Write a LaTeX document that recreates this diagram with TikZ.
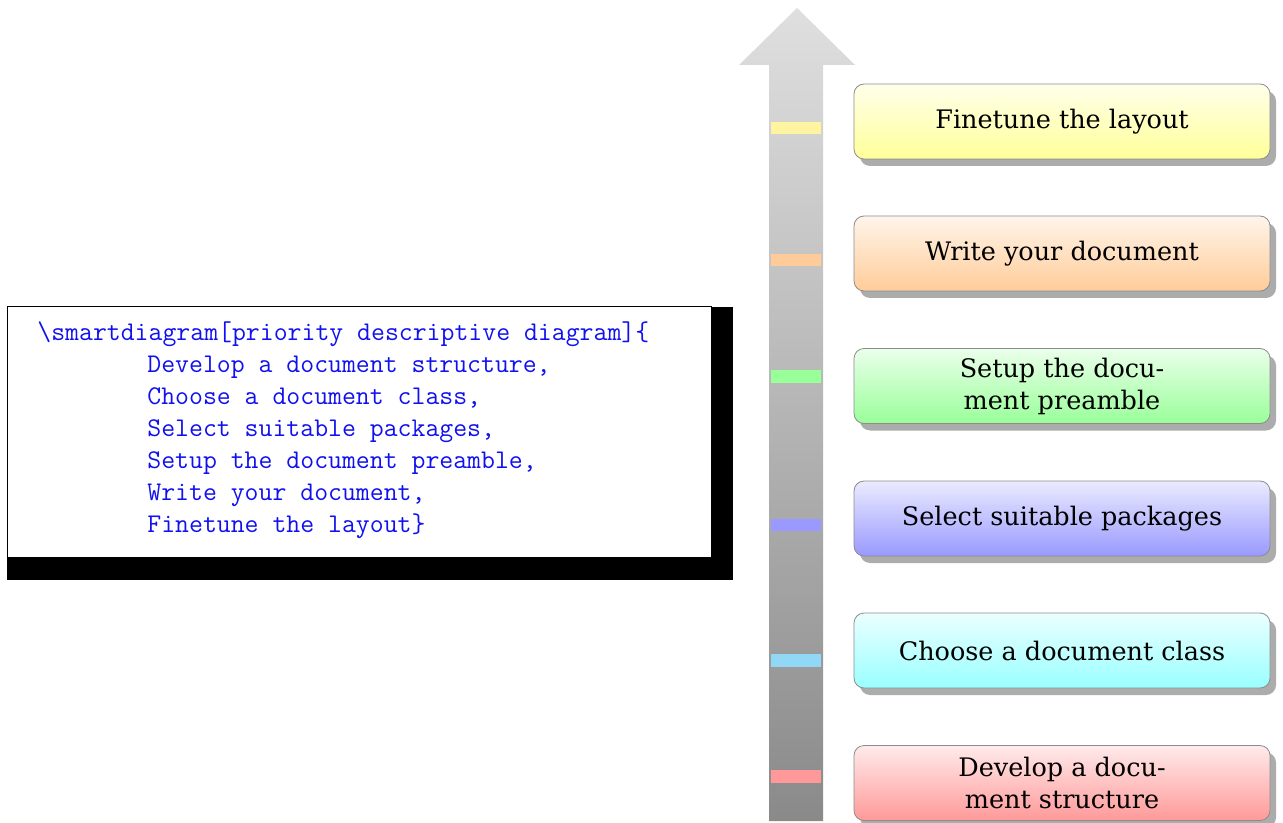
\documentclass[tikz,border=0pt]{standalone}
\usepackage{fontspec}
\setmainfont{DejaVu Serif}
\setmonofont{Latin Modern Mono}
\usetikzlibrary{shadows}
\definecolor{codeblue}{HTML}{1010F0}
\definecolor{cA}{HTML}{FF9999}
\definecolor{cB}{HTML}{99FFFF}
\definecolor{cC}{HTML}{9999FF}
\definecolor{cD}{HTML}{99FF99}
\definecolor{cE}{HTML}{FFCC99}
\definecolor{cF}{HTML}{FFFF99}
\definecolor{mA}{HTML}{FF9999}
\definecolor{mB}{HTML}{90D8F5}
\definecolor{mC}{HTML}{9999FF}
\definecolor{mD}{HTML}{99FF99}
\definecolor{mE}{HTML}{FFCC99}
\definecolor{mF}{HTML}{FFF5A0}
\tikzset{
  prio/.style={draw=gray!90, line width=0.4pt, rounded corners=5pt,
    minimum width=208pt, minimum height=37.5pt, align=center,
    top color=#1!20!white, bottom color=#1,
    font=\fontsize{12.75}{16}\selectfont,
    drop shadow={shadow xshift=3pt, shadow yshift=-3.5pt, fill=gray!65, opacity=1}},
  codebox/.style={draw=black, line width=0.5pt, fill=white, inner sep=0pt,
    minimum width=352pt, minimum height=125pt},
  codeline/.style={anchor=base west, text=codeblue, inner sep=0pt,
    font=\ttfamily\fontsize{13.5}{16}\selectfont},
}
\begin{document}
\begin{tikzpicture}[x=0.5pt, y=-0.5pt]
\useasboundingbox (0,0) rectangle (1283,823);
% progress arrow
\shade[top color=gray!25, bottom color=gray!92]
  (769,821) -- (769,65) -- (739,65) -- (797,8) -- (855,65) -- (823,65) -- (823,821) -- cycle;
% priority marks on the arrow
\fill[mF] (771,122) rectangle (821,134);
\fill[mE] (771,254) rectangle (821,266);
\fill[mD] (771,370) rectangle (821,383);
\fill[mC] (771,519) rectangle (821,531);
\fill[mB] (771,654) rectangle (821,667);
\fill[mA] (771,770) rectangle (821,783);
% priority boxes
\node[prio=cF] (p6) at (1062,121.5) {Finetune the layout};
\node[prio=cE] (p5) at (1062,253.5) {Write your document};
\node[prio=cD] (p4) at (1062,386) {Setup the docu-\\ment preamble};
\node[prio=cC] (p3) at (1062,518.5) {Select suitable packages};
\node[prio=cB] (p2) at (1062,650.5) {Choose a document class};
\node[prio=cA] (p1) at (1062,783) {Develop a docu-\\ment structure};
% code listing with heavy shadow
\fill[black] (7,307) rectangle (733,580);
\node[codebox] (code) at (359,432) {};
\node[codeline] (l0) at (37,340) {\textbackslash smartdiagram[priority descriptive diagram]\{};
\node[codeline] (l1) at (147,372) {Develop a document structure,};
\node[codeline] (l2) at (147,404) {Choose a document class,};
\node[codeline] (l3) at (147,436) {Select suitable packages,};
\node[codeline] (l4) at (147,468) {Setup the document preamble,};
\node[codeline] (l5) at (147,500) {Write your document,};
\node[codeline] (l6) at (147,532) {Finetune the layout\}};
\end{tikzpicture}
\end{document}
